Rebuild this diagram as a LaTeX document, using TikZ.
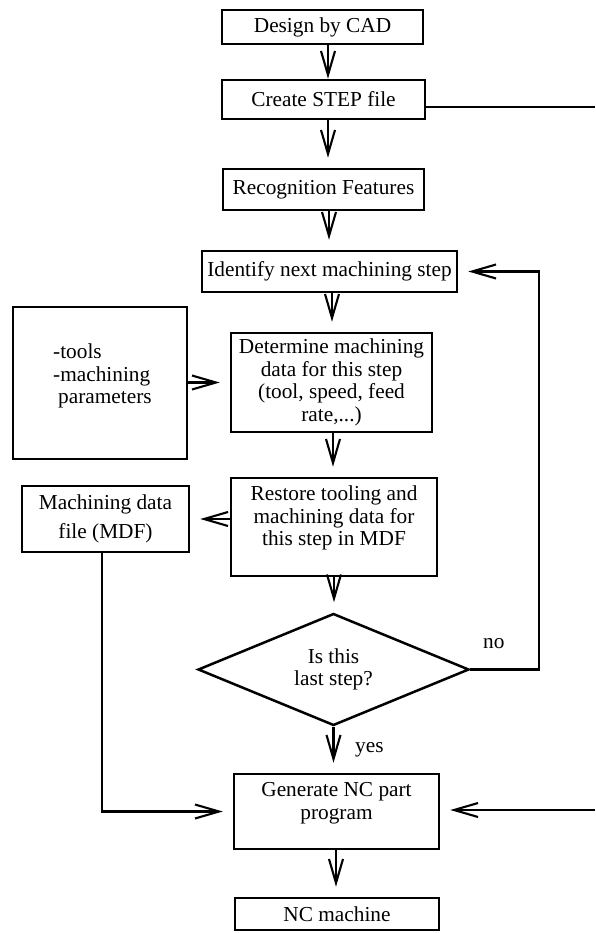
\documentclass[tikz,border=0pt]{standalone}
\usepackage{fontspec}
\setmainfont{Liberation Serif}
\usetikzlibrary{arrows.meta,shapes.geometric,calc}
\newcommand{\myfs}{\fontsize{21.3}{22.7}\selectfont}
\begin{document}
\begin{tikzpicture}[x=1pt,y=-1pt,
  box/.style={draw, line width=2.5pt, inner sep=0pt, align=center, font=\myfs},
  thinbox/.style={draw, line width=1.1pt, inner sep=0pt},
  txt/.style={inner sep=0pt, align=center, font=\myfs},
  conn/.style={line width=2.1pt},
  arr/.style={line width=2.1pt, -{Straight Barb[length=24pt,width=14pt]}, shorten >=10pt},
  arr0/.style={line width=2.1pt, -{Straight Barb[length=24pt,width=14pt]}}]
\useasboundingbox (0,0) rectangle (595,933);

\node[box, minimum width=201pt, minimum height=34pt] (cad) at (322.5,27) {Design by CAD};
\node[box, minimum width=203pt, minimum height=39pt] (stepf) at (323.5,99.5) {Create STEP file};
\node[box, minimum width=201pt, minimum height=41pt] (recog) at (323.5,189.5) {Recognition Features};
\node[box, minimum width=255pt, minimum height=41pt] (ident) at (329.5,271.5) {Identify next machining step};

\node[thinbox, minimum width=174pt, minimum height=152pt] (params) at (100,383) {};
\node[txt, align=left, anchor=west] (paramsT) at (53,376) {-tools\\-machining\\\hspace*{5pt}parameters};

\node[box, minimum width=201pt, minimum height=99pt] (determ) at (331.5,382.5) {Determine machining\\data for this step\\(tool, speed, feed\\rate,...)};

\node[box, minimum width=206pt, minimum height=98pt] (restore) at (334,527) {};
\node[txt, anchor=north] (restoreT) at (334,485.5) {Restore tooling and\\machining data for\\this step in MDF};

\node[box, minimum width=167pt, minimum height=66pt, font={\fontsize{21.3}{29}\selectfont}] (mdf) at (105.5,519) {Machining data\\file (MDF)};

\node[diamond, draw, line width=2.5pt, shape aspect=2.42, minimum width=271pt, minimum height=112pt, inner sep=0pt, align=center, font=\myfs] (dia) at (333.5,669.5) {Is this\\last step?};

\node[box, minimum width=205pt, minimum height=75pt] (gen) at (336.5,811.5) {};
\node[txt, anchor=north] (genT) at (336.5,782.5) {Generate NC part\\program};

\node[box, minimum width=204pt, minimum height=32pt] (nc) at (337,914) {NC machine};

\node[txt, anchor=base west] (no) at (483,648) {no};
\node[txt, anchor=base west] (yes) at (355,752) {yes};

\coordinate (re1) at (595,107);
\coordinate (re2) at (595,810);
\coordinate (fb) at (539,400);

\draw[arr0] (cad.south -| 328,0) -- (328,0 |- stepf.north);
\draw[arr] (328,0 |- stepf.south) -- (328,0 |- recog.north);
\draw[arr] (329,0 |- recog.south) -- (329,0 |- ident.north);
\draw[arr] (332,0 |- ident.south) -- (332,0 |- determ.north);
\draw[arr] (determ.south -| 333,0) -- (333,0 |- restore.north);
\draw[arr] (restore.south -| 334,0) -- (334,0 |- dia.north);
\draw[arr] (dia.south) -- (dia.south |- gen.north);
\draw[arr] (gen.south -| 336,0) -- (336,0 |- nc.north);

\draw[conn] (stepf.east |- re1) -- (re1);
\draw[arr] (re2) -- (re2 -| gen.east);
\draw[arr] (params.east |- determ.west) -- (determ.west);
\draw[arr] (restore.west |- mdf.east) -- (mdf.east);
\draw[arr] (mdf.south -| 102,0) |- (gen.west);
\draw[arr] (dia.east) -- (dia.east -| fb) -- (fb |- ident.east) -- (ident.east);
\end{tikzpicture}
\end{document}
